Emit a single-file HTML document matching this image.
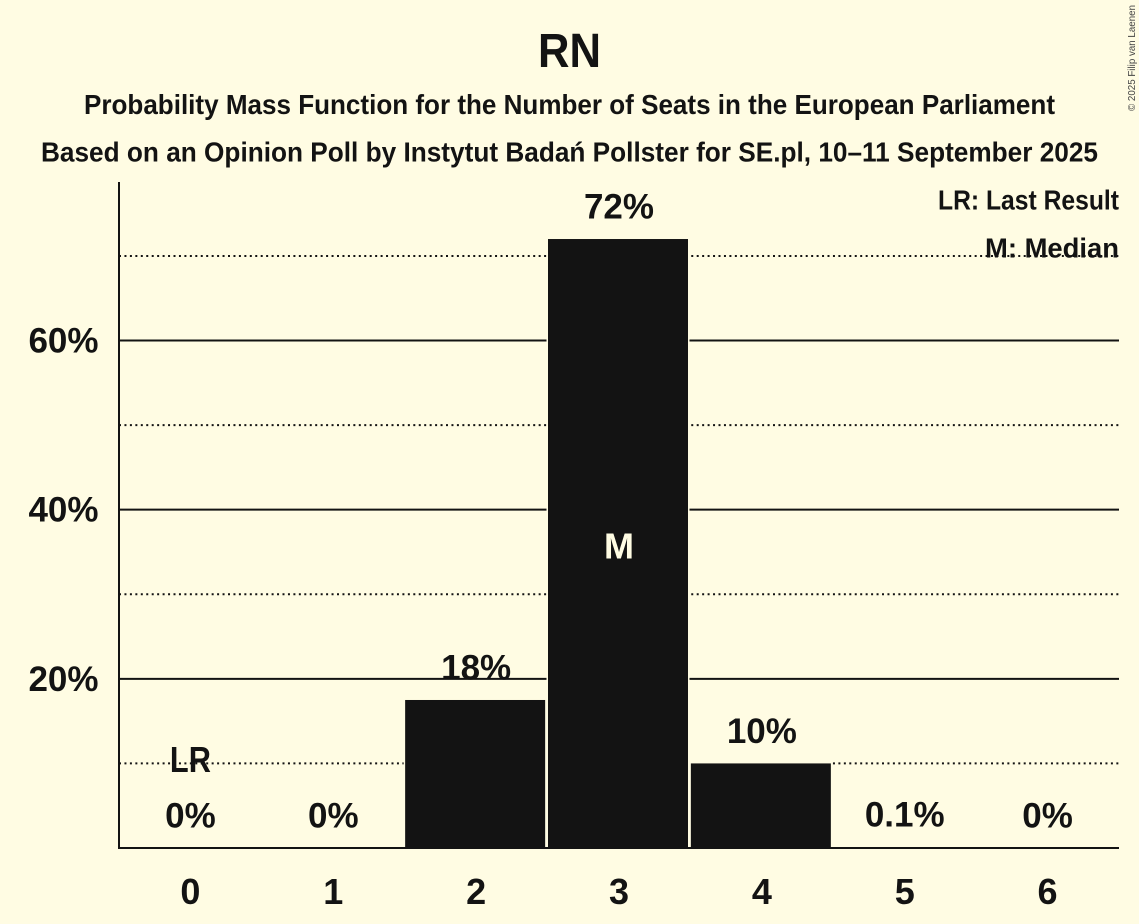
<!DOCTYPE html>
<html>
<head>
<meta charset="utf-8">
<title>RN</title>
<style>
html,body{margin:0;padding:0;background:#fffce3;}
svg{display:block;}
text{font-family:"Liberation Sans","Noto Sans CJK SC",sans-serif;fill:#131313;}
</style>
</head>
<body>
<svg id="chart" width="1139" height="924" viewBox="0 0 1139 924" xmlns="http://www.w3.org/2000/svg">
  <rect x="0" y="0" width="1139" height="924" fill="#fffce3"/>
  <g id="plot"></g>
  <text x="569.5" y="67" font-size="48" font-weight="700" text-anchor="middle" textLength="63" lengthAdjust="spacingAndGlyphs">RN</text>
  <text x="569.5" y="114" font-size="28" font-weight="700" text-anchor="middle" textLength="971" lengthAdjust="spacingAndGlyphs">Probability Mass Function for the Number of Seats in the European Parliament</text>
  <text x="569.5" y="161.5" font-size="28" font-weight="700" text-anchor="middle" textLength="1057" lengthAdjust="spacingAndGlyphs">Based on an Opinion Poll by Instytut Badań Pollster for SE.pl, 10–11 September 2025</text>
  <text x="1119" y="209.5" font-size="28" font-weight="700" text-anchor="end" textLength="181" lengthAdjust="spacingAndGlyphs">LR: Last Result</text>
  <text x="1119" y="257.5" font-size="28" font-weight="700" text-anchor="end" textLength="134" lengthAdjust="spacingAndGlyphs">M: Median</text>
  <text transform="translate(1135 111) rotate(-90)" font-size="10.5" textLength="106" lengthAdjust="spacingAndGlyphs" style="fill:#444">© 2025 Filip van Laenen</text>
</svg>
<script>
var seats = ['0', '1', '2', '3', '4', '5', '6'];
var probabilities = [0, 0, 17.5, 72, 10, 0.1, 0];
var barLabels = ['0%', '0%', '18%', '72%', '10%', '0.1%', '0%'];
var solidTicks = [20, 40, 60];
var solidTickLabels = ['20%', '40%', '60%'];
var dottedTicks = [10, 30, 50, 70];
var lastResultSeat = 0;
var medianSeat = 3;

var NS = 'http://www.w3.org/2000/svg';
var plot = document.getElementById('plot');
var BG = '#fffce3';
var INK = '#131313';
var left = 119, right = 1119, baseY = 848, topY = 182;
var pxPerPercent = 8.458;
var band = (right - left) / seats.length;

function xScale(i) { return left + band * (i + 0.5); }
function yScale(v) { return baseY - v * pxPerPercent; }
function make(tag, attrs, parent) {
  var el = document.createElementNS(NS, tag);
  for (var k in attrs) { el.setAttribute(k, attrs[k]); }
  (parent || plot).appendChild(el);
  return el;
}

dottedTicks.forEach(function (t) {
  var line = make('line', { x1: left, x2: right, y1: yScale(t), y2: yScale(t), stroke: INK, 'stroke-width': 2, 'stroke-dasharray': '2 3.45' });
  
  
});
solidTicks.forEach(function (t, i) {
  var line = make('line', { x1: left, x2: right, y1: yScale(t), y2: yScale(t), stroke: INK, 'stroke-width': 2 });
  
  
  var label = make('text', { x: 98.5, y: yScale(t) + 12, 'font-size': 35, 'font-weight': 700, 'text-anchor': 'end' });
  label.textContent = solidTickLabels[i];
  
  
});

probabilities.forEach(function (p, i) {
  if (p <= 0) { return; }
  var bar = make('rect', {
    x: xScale(i) - 71, y: yScale(p), width: 140, height: baseY + 1 - yScale(p),
    fill: INK, stroke: BG, 'stroke-width': 3, 'paint-order': 'stroke'
  });
  
  
});

var yAxis = make('line', { x1: left, x2: left, y1: topY, y2: baseY + 1, stroke: INK, 'stroke-width': 2 });


var xAxis = make('line', { x1: left - 1, x2: right, y1: baseY, y2: baseY, stroke: INK, 'stroke-width': 2 });



seats.forEach(function (s, i) {
  var tick = make('text', { x: xScale(i), y: 904, 'font-size': 36, 'font-weight': 700, 'text-anchor': 'middle' });
  tick.textContent = s;
  
  
  var value = make('text', { x: xScale(i), y: yScale(probabilities[i]) - 20.5, 'font-size': 35, 'font-weight': 700, 'text-anchor': 'middle' });
  value.textContent = barLabels[i];
  
  
});

var lr = make('text', { x: xScale(lastResultSeat), y: yScale(probabilities[lastResultSeat]) - 76, 'font-size': 36, 'font-weight': 700, 'text-anchor': 'middle', textLength: 41, lengthAdjust: 'spacingAndGlyphs' });
lr.textContent = 'LR';



var m = make('text', { x: xScale(medianSeat), y: yScale(probabilities[medianSeat] / 2) + 15, 'font-size': 36, 'font-weight': 700, 'text-anchor': 'middle' });
m.textContent = 'M';
m.style.fill = BG;


</script>
</body>
</html>
